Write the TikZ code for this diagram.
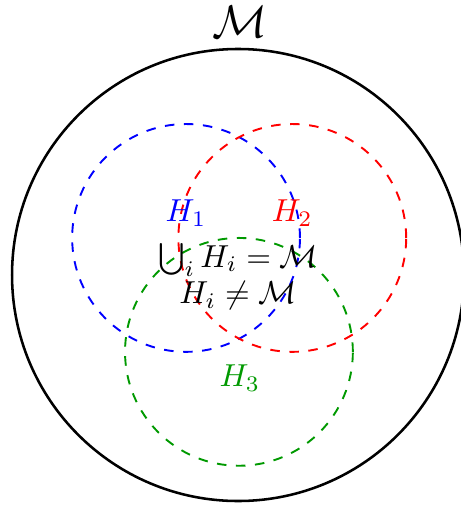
\documentclass[tikz,border=0pt]{standalone}
\usepackage{amsmath, amssymb}
\usepackage{tikz}
\usetikzlibrary{calc, positioning}

\begin{document}
\begin{tikzpicture}[>=stealth,
    outer/.style={thick},
    sub/.style={dashed, semithick}]

    % khung bao (giu ti le hinh goc)
    \useasboundingbox (-2.633,-2.544) rectangle (2.456,3.042);

    % =================================================================
    % TAP M VA CAC TAP CON H_1, H_2, H_3
    % =================================================================
    \coordinate (O) at (0,0);       % tam cua M
    \coordinate (C1) at (-0.575,0.41); % tam H_1
    \coordinate (C2) at (0.6,0.41);    % tam H_2
    \coordinate (C3) at (0.01,-0.85);  % tam H_3

    % Ve duong tron lon M
    \draw[outer] (O) circle (2.5);

    % Ve ba duong tron net dut
    \draw[sub, blue] (C1) circle (1.26);
    \draw[sub, red] (C2) circle (1.26);
    \draw[sub, green!60!black] (C3) circle (1.26);

    % Nhan
    \node (M) at (0.02,2.8) {\Large $\mathcal{M}$};
    \node[blue] (H1) at (-0.575,0.686) {$H_1$};
    \node[red] (H2) at (0.6,0.686) {$H_2$};
    \node[green!60!black] (H3) at (0.02,-1.14) {$H_3$};
    \node (U) at (0,0.166) {$\bigcup_i H_i = \mathcal{M}$};
    \node (N) at (0,-0.232) {$H_i \neq \mathcal{M}$};

\end{tikzpicture}
\end{document}
